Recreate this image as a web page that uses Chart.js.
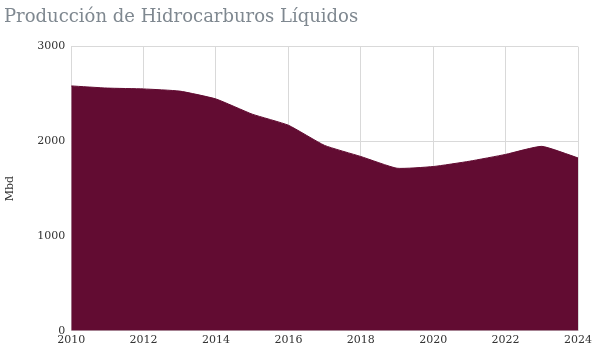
<!DOCTYPE html>
<html>
<head>
<meta charset="utf-8">
<script src="https://cdn.jsdelivr.net/npm/chart.js@4/dist/chart.umd.min.js"></script>
<style>
    html, body { margin: 0; padding: 0; background: #fff; }
    #wrap { width: 595px; height: 350px; }
</style>
</head>
<body>
<div id="wrap"><canvas id="chart"></canvas></div>
<script>
// Data
const years = [2010, 2011, 2012, 2013, 2014, 2015, 2016, 2017, 2018, 2019, 2020, 2021, 2022, 2023, 2024];
const production = [2585, 2562, 2553, 2530, 2447, 2287, 2170, 1957, 1840, 1716, 1734, 1790, 1862, 1947, 1825];
const yTicks = [0, 1000, 2000, 3000];

const serif = "'DejaVu Serif', 'Liberation Serif', serif";

const points = years.map((y, i) => ({ x: y, y: production[i] }));

new Chart(document.getElementById('chart').getContext('2d'), {
    type: 'line',
    data: {
        datasets: [{
            label: 'Mbd',
            data: points,
            borderColor: '#620c32',
            backgroundColor: '#620c32',
            borderWidth: 1,
            fill: 'origin',
            tension: 0.15,
            pointRadius: 0
        }]
    },
    options: {
        responsive: true,
        maintainAspectRatio: false,
        animation: false,
        layout: { padding: { left: 4, right: 14, top: 0, bottom: 0 } },
        scales: {
            x: {
                type: 'linear',
                min: years[0],
                max: years[years.length - 1],
                afterBuildTicks: axis => {
                    axis.ticks = years.filter(y => y % 2 === 0).map(v => ({ value: v }));
                },
                grid: { color: '#d9d9d9', drawTicks: false },
                border: { color: '#d9d9d9' },
                ticks: {
                    color: '#333',
                    font: { family: serif, size: 11 },
                    padding: 3,
                    maxRotation: 0,
                    callback: v => String(v)
                }
            },
            y: {
                min: 0,
                max: 3000,
                afterBuildTicks: axis => {
                    axis.ticks = yTicks.map(v => ({ value: v }));
                },
                grid: { color: '#d9d9d9', drawTicks: false },
                border: { color: '#d9d9d9' },
                title: {
                    display: true,
                    text: 'Mbd',
                    color: '#333',
                    font: { family: serif, size: 11 },
                    padding: { top: 0, bottom: 14 }
                },
                ticks: {
                    color: '#333',
                    font: { family: serif, size: 11 },
                    padding: 6,
                    callback: v => String(v)
                }
            }
        },
        plugins: {
            legend: { display: false },
            tooltip: { enabled: false },
            title: {
                display: true,
                text: 'Producción de Hidrocarburos Líquidos',
                align: 'start',
                color: '#7f8890',
                font: { family: serif, size: 18, weight: 'normal' },
                padding: { top: 7, bottom: 18 }
            }
        }
    }
});
</script>
</body>
</html>
